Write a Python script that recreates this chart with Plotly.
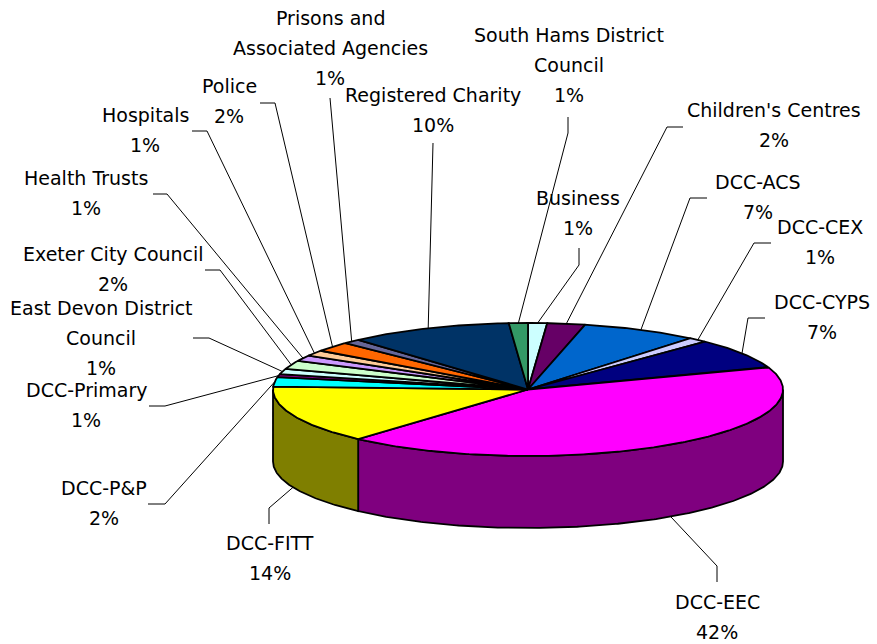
import numpy as np
import plotly.graph_objects as go

# ---------------- data ----------------
categories = [
    "Business", "Children's Centres", "DCC-ACS", "DCC-CEX", "DCC-CYPS",
    "DCC-EEC", "DCC-FITT", "DCC-P&P", "DCC-Primary",
    "East Devon District Council", "Exeter City Council", "Health Trusts",
    "Hospitals", "Police", "Prisons and Associated Agencies",
    "Registered Charity", "South Hams District Council",
]
values = [1.2, 2.4, 7.4, 1.2, 7.3, 42.1, 14.1, 2.3, 0.7, 1.3, 2.1, 1.4,
          1.4, 2.4, 1.1, 10.4, 1.2]
colors = ["#CCFFFF", "#660066", "#0066CC", "#CCCCFF", "#000080", "#FF00FF",
          "#FFFF00", "#00FFFF", "#800080", "#CCFFFF", "#CCFFCC", "#CC99FF",
          "#FFCC99", "#FF6600", "#666699", "#003366", "#339966"]
label_text = {
    "East Devon District Council": ["East Devon District", "Council"],
    "Prisons and Associated Agencies": ["Prisons and", "Associated Agencies"],
    "South Hams District Council": ["South Hams District", "Council"],
}

# ---------------- layout (positions, pixels) ----------------
W, H = 877, 644
CX, CY, RX, RY, DEPTH = 528, 389.5, 255, 66.5, 72
LINE_H = 30
FONT = dict(family="DejaVu Sans", size=19, color="black")

# label centre x, first line y, leader path from label to the slice
label_layout = {
    "Business": (578, 198, [(579, 248), (579, 265)]),
    "Children's Centres": (774, 110, [(683, 127), (667, 127)]),
    "DCC-ACS": (758, 182, [(707, 198), (690, 198)]),
    "DCC-CEX": (820, 227, [(771, 243), (754, 243)]),
    "DCC-CYPS": (822, 302, [(765, 318), (748, 318)]),
    "DCC-EEC": (717, 602, [(717, 582), (717, 566)]),
    "DCC-FITT": (270, 543, [(269, 524), (269, 508)]),
    "DCC-P&P": (104, 488, [(148, 504), (165, 504)]),
    "DCC-Primary": (86, 390, [(149, 406), (165, 406)]),
    "East Devon District Council": (101, 308, [(193, 338), (209, 338)]),
    "Exeter City Council": (113, 254, [(205, 270), (220, 270)]),
    "Health Trusts": (86, 178, [(153, 194), (167, 194)]),
    "Hospitals": (145, 115, [(192, 131), (207, 131)]),
    "Police": (229, 86, [(260, 103), (275, 103)]),
    "Prisons and Associated Agencies": (330, 18, [(330, 98)]),
    "Registered Charity": (433, 95, [(433, 143)]),
    "South Hams District Council": (569, 35, [(568, 117), (568, 133)]),
}


def pt(theta_deg, dz=0.0):
    t = np.radians(theta_deg)
    return CX + RX * np.sin(t), CY - RY * np.cos(t) + dz


def arc(a0, a1, dz=0.0):
    n = max(2, int(abs(a1 - a0) * 2) + 2)
    th = np.linspace(a0, a1, n)
    xs, ys = pt(th, dz)
    return list(xs), list(ys)


def darken(hexcol, f=0.5):
    h = hexcol.lstrip("#")
    r, g, b = (int(h[i:i + 2], 16) for i in (0, 2, 4))
    return "#%02X%02X%02X" % (int(r * f), int(g * f), int(b * f))


total = sum(values)
bounds = np.concatenate([[0], np.cumsum(values)]) / total * 360.0

fig = go.Figure()
OUT = dict(color="black", width=1.8)

# side walls (front half only, 90..270 degrees)
for i, c in enumerate(categories):
    a0, a1 = bounds[i], bounds[i + 1]
    s0, s1 = max(a0, 90), min(a1, 270)
    if s1 <= s0:
        continue
    tx, ty = arc(s0, s1)
    bx, by = arc(s1, s0, DEPTH)
    fig.add_trace(go.Scatter(
        x=tx + bx + [tx[0]], y=ty + by + [ty[0]], mode="lines",
        fill="toself", fillcolor=darken(colors[i]), line=OUT,
        hoverinfo="skip", showlegend=False))

# top faces
for i, c in enumerate(categories):
    a0, a1 = bounds[i], bounds[i + 1]
    ax, ay = arc(a0, a1)
    fig.add_trace(go.Scatter(
        x=[CX] + ax + [CX], y=[CY] + ay + [CY], mode="lines",
        fill="toself", fillcolor=colors[i], line=OUT,
        hoverinfo="skip", showlegend=False, name=c))

# labels and leader lines
annotations = []
for i, c in enumerate(categories):
    mid = (bounds[i] + bounds[i + 1]) / 2
    front = 90 < mid < 270
    ex, ey = pt(mid, DEPTH if front else 0)
    lx, ly, path = label_layout[c]
    xs = [p[0] for p in path] + [ex]
    ys = [p[1] for p in path] + [ey]
    fig.add_trace(go.Scatter(x=xs, y=ys, mode="lines",
                             line=dict(color="black", width=1),
                             hoverinfo="skip", showlegend=False))
    lines = label_text.get(c, [c]) + ["%d%%" % round(values[i] / total * 100)]
    for k, txt in enumerate(lines):
        annotations.append(dict(x=lx, y=ly + k * LINE_H, xref="x", yref="y",
                                text=txt, showarrow=False, font=FONT,
                                xanchor="center", yanchor="middle"))

fig.update_layout(
    width=W, height=H, autosize=False,
    margin=dict(l=0, r=0, t=0, b=0, pad=0),
    paper_bgcolor="white", plot_bgcolor="white",
    xaxis=dict(range=[0, W], visible=False, fixedrange=True),
    yaxis=dict(range=[H, 0], visible=False, fixedrange=True),
    annotations=annotations, showlegend=False,
)

fig.write_html(
    "out.html",
    config={"displayModeBar": False},
    post_script="document.body.style.margin='0';"
                "document.body.style.overflow='hidden';",
)
